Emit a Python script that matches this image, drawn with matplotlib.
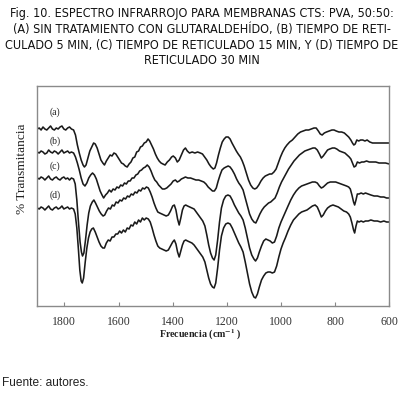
import matplotlib
matplotlib.use("Agg")
import matplotlib.pyplot as plt

# ---- data (wavenumber cm^-1, transmittance arbitrary units) ----
wn_a = [1900,1893,1886,1879,1872,1865,1858,1851,1844,1837,1830,1823,1816,1809,1802,1795,1788,1781,1774,1766,
        1759,1752,1745,1738,1731,1726,1720,1713,1706,1699,1692,1686,1679,1672,1665,1658,1652,1645,1638,1631,
        1624,1617,1610,1603,1596,1589,1582,1575,1568,1561,1554,1547,1540,1533,1526,1519,1512,1505,1498,1491,
        1485,1478,1471,1464,1457,1450,1443,1436,1428,1420,1412,1404,1398,1390,1383,1376,1368,1360,1353,1346,
        1338,1328,1318,1308,1298,1290,1282,1274,1266,1258,1250,1244,1238,1231,1224,1217,1210,1203,1195,1188,
        1181,1173,1165,1158,1150,1143,1136,1128,1120,1112,1104,1097,1090,1082,1074,1066,1058,1050,1042,1034,
        1026,1018,1010,1002,994,986,978,968,958,948,938,928,918,908,898,888,878,870,862,855,
        848,840,832,822,812,804,796,786,776,766,758,750,742,736,731,726,720,713,706,698,
        690,682,672,662,650,638,626,614,600]
tr_a = [191,192,190,193,191,190,192,194,191,190,192,191,193,194,191,190,192,193,191,190,
        185,175,167,160,155,153,155,162,169,173,177,176,172,166,160,157,155,159,162,165,
        164,167,166,163,160,157,156,154,153,156,158,162,163,168,169,173,174,177,178,181,
        179,175,171,166,162,159,157,156,155,158,160,163,164,162,158,160,165,170,172,169,
        167,168,167,168,167,166,163,160,156,153,151,152,157,165,172,178,181,183,183,181,
        177,173,169,166,163,159,154,147,140,135,132,131,132,135,139,142,144,145,146,146,
        148,151,157,163,168,172,175,178,180,183,186,188,189,190,190,191,192,192,189,186,
        185,187,188,189,190,190,189,188,188,187,185,183,180,177,175,176,180,179,180,180,
        179,180,178,177,177,177,177,177,177]

wn_b = [1900,1893,1886,1879,1872,1865,1858,1851,1844,1837,1830,1823,1816,1809,1802,1795,1788,1781,1774,1766,
        1759,1752,1745,1738,1731,1724,1717,1710,1703,1696,1689,1682,1675,1668,1661,1655,1648,1641,1634,1627,
        1620,1613,1606,1599,1592,1585,1578,1571,1564,1557,1550,1543,1536,1529,1522,1515,1508,1501,1494,1487,
        1480,1473,1466,1459,1452,1445,1438,1430,1422,1414,1406,1398,1390,1383,1376,1368,1360,1353,1344,1334,
        1324,1314,1304,1294,1285,1277,1269,1261,1253,1246,1239,1232,1225,1218,1210,1203,1195,1188,1180,1172,
        1164,1156,1148,1140,1132,1124,1116,1108,1100,1093,1086,1078,1070,1062,1054,1046,1038,1030,1022,1014,
        1006,998,990,982,972,962,952,942,932,922,912,902,892,882,874,866,858,851,844,836,
        828,820,810,802,794,784,774,764,756,748,742,736,730,724,718,710,702,694,684,674,
        662,650,638,626,614,600]
tr_b = [168,167,169,168,166,167,170,168,167,169,168,166,168,170,167,168,169,167,168,167,
        163,157,150,142,136,134,137,142,145,147,145,141,135,129,125,122,125,127,130,128,
        131,130,133,132,135,134,137,136,139,139,142,142,145,146,149,150,152,153,155,153,
        149,144,140,138,135,133,131,131,132,134,136,139,140,138,139,141,142,143,142,142,
        141,140,140,139,138,136,133,131,129,129,132,139,145,150,152,153,154,153,150,146,
        141,137,134,130,122,114,106,101,98,97,101,106,110,113,115,117,118,120,122,127,
        133,138,142,146,151,155,159,162,165,167,169,170,171,172,172,170,166,162,164,167,
        170,171,172,172,171,169,168,167,165,163,161,157,153,154,158,157,158,158,159,158,
        158,158,157,157,157,156]

wn_c = [1900,1893,1886,1879,1872,1865,1858,1851,1844,1837,1830,1823,1816,1809,1802,1795,1788,1781,1774,1766,
        1760,1754,1748,1742,1737,1733,1728,1722,1716,1710,1704,1697,1691,1685,1678,1671,1664,1657,1651,1644,
        1637,1630,1623,1616,1609,1602,1595,1588,1581,1574,1567,1560,1553,1546,1539,1532,1525,1518,1511,1504,
        1497,1490,1483,1476,1469,1462,1455,1448,1440,1432,1424,1416,1408,1400,1394,1388,1382,1376,1370,1364,
        1358,1352,1345,1337,1329,1321,1313,1305,1297,1289,1281,1274,1267,1260,1253,1247,1241,1234,1227,1220,
        1212,1204,1196,1188,1180,1172,1164,1156,1148,1140,1132,1124,1116,1108,1100,1094,1087,1080,1072,1064,
        1056,1048,1040,1032,1024,1016,1008,1000,992,984,974,964,954,944,934,924,914,904,894,884,
        874,866,858,851,844,836,828,818,808,798,788,778,768,758,750,744,738,732,728,723,
        718,712,704,696,688,678,668,656,644,632,620,610,600]
tr_c = [142,141,143,142,140,142,144,141,140,142,143,141,140,142,143,141,142,140,142,141,
        136,120,98,78,68,64,67,80,95,107,114,118,120,117,113,109,106,104,105,109,
        112,111,115,114,118,117,120,119,122,121,124,123,126,125,128,127,130,129,132,131,
        133,132,128,123,117,112,108,107,106,105,104,105,109,114,115,110,101,95,102,110,
        114,115,114,113,112,111,108,105,102,99,94,85,75,67,62,60,65,80,98,112,
        120,124,125,124,120,115,111,107,104,100,92,82,72,65,61,59,62,68,74,79,
        81,80,79,77,78,84,92,98,103,108,114,120,125,129,132,134,135,136,137,138,
        138,137,134,132,133,135,137,138,138,138,137,136,135,134,133,131,125,118,115,120,
        126,126,127,126,127,126,125,124,124,123,123,122,122]

wn_d = [1900,1893,1886,1879,1872,1865,1858,1851,1844,1837,1830,1823,1816,1809,1802,1795,1788,1781,1774,1766,
        1760,1754,1748,1743,1738,1734,1729,1723,1717,1711,1705,1699,1693,1686,1679,1672,1665,1658,1652,1645,
        1638,1631,1624,1617,1610,1603,1596,1589,1582,1575,1568,1561,1554,1547,1540,1533,1526,1519,1512,1505,
        1498,1490,1483,1476,1469,1462,1455,1448,1440,1432,1424,1416,1408,1400,1394,1388,1382,1376,1370,1364,
        1358,1352,1345,1337,1329,1321,1313,1305,1297,1289,1281,1274,1267,1260,1253,1247,1241,1234,1227,1220,
        1212,1204,1196,1188,1180,1172,1164,1156,1148,1140,1132,1124,1116,1108,1100,1094,1087,1080,1072,1064,
        1056,1048,1040,1032,1024,1016,1008,1000,992,984,974,964,954,944,934,924,914,904,894,884,
        874,866,858,851,844,836,828,818,808,798,788,778,768,758,750,744,738,732,728,723,
        718,712,704,696,688,678,668,656,644,632,620,610,600]
tr_d = [112,111,113,112,110,112,114,111,110,112,113,111,112,114,111,112,113,111,112,111,
        106,92,70,50,39,37,42,58,72,82,88,91,92,88,83,78,74,72,72,77,
        80,79,83,83,86,86,89,87,90,88,92,91,95,94,98,96,100,98,102,100,
        102,101,98,92,85,79,74,72,71,70,69,70,74,78,80,76,68,63,69,75,
        79,80,79,78,77,75,72,69,66,63,58,50,42,36,33,32,37,52,70,84,
        92,96,97,96,92,87,82,77,73,68,58,47,36,28,23,22,26,33,40,44,
        47,48,48,47,48,54,63,71,77,82,89,95,100,103,106,108,109,110,112,114,
        115,113,108,103,105,109,112,114,115,114,113,111,109,108,106,103,97,90,87,94,
        99,98,99,98,99,99,100,99,99,98,99,98,98]

labels = ["(a)", "(b)", "(c)", "(d)"]
x_ticks = [1800, 1600, 1400, 1200, 1000, 800, 600]

title_lines = [
    "Fig. 10. ESPECTRO INFRARROJO PARA MEMBRANAS CTS: PVA, 50:50:",
    "(A) SIN TRATAMIENTO CON GLUTARALDEHÍDO, (B) TIEMPO DE RETI-",
    "CULADO 5 MIN, (C) TIEMPO DE RETICULADO 15 MIN, Y (D) TIEMPO DE",
    "RETICULADO 30 MIN",
]

plt.rcParams["mathtext.fontset"] = "stix"
W, H = 403, 393
fig = plt.figure(figsize=(W / 100, H / 100), dpi=100)
ax = fig.add_axes([37.3 / W, (H - 306) / H, 352 / W, 220 / H])

line_kw = dict(color="#1a1a1a", lw=1.15, solid_joinstyle="round")
for wn, tr in [(wn_a, tr_a), (wn_b, tr_b), (wn_c, tr_c), (wn_d, tr_d)]:
    ax.plot(wn, tr, **line_kw)

ax.set_xlim(1900, 600)
ax.set_ylim(14, 234)
ax.set_xticks(x_ticks)
ax.set_xticklabels([str(t) for t in x_ticks], family="Liberation Serif", fontsize=8.5, color="#333333")
ax.set_yticks([])
ax.tick_params(axis="x", direction="in", length=3, width=0.8, color="#888888", pad=7)
for s in ax.spines.values():
    s.set_color("#8a8a8a")
    s.set_linewidth(1.0)

label_y = [0.88, 0.748, 0.634, 0.505]
for lab, yy in zip(labels, label_y):
    ax.text(0.034, yy, lab, transform=ax.transAxes, family="Liberation Serif",
            fontsize=7, color="#222222", ha="left", va="center")

fig.text(22 / W, 1 - 169 / H, "% Transmitancia", rotation=90, family="Liberation Serif",
         fontsize=9.6, color="#222222", ha="center", va="center")
fig.text(200 / W, 1 - 335 / H, r"Frecuencia (cm$^{\mathbf{-1}}$ )", family="Liberation Serif",
         fontweight="bold", fontsize=7.2, color="#222222", ha="center", va="center")

title_y = [13, 29, 45, 61]
for t, yy in zip(title_lines, title_y):
    fig.text(0.5, 1 - yy / H, t, family="DejaVu Sans", fontstretch="condensed", fontsize=9.0,
             color="#111111", ha="center", va="center")

fig.text(2 / W, 1 - 383 / H, "Fuente: autores.", family="Liberation Sans",
         fontsize=8.6, color="#222222", ha="left", va="center")

fig.savefig("out.png", dpi=100)
